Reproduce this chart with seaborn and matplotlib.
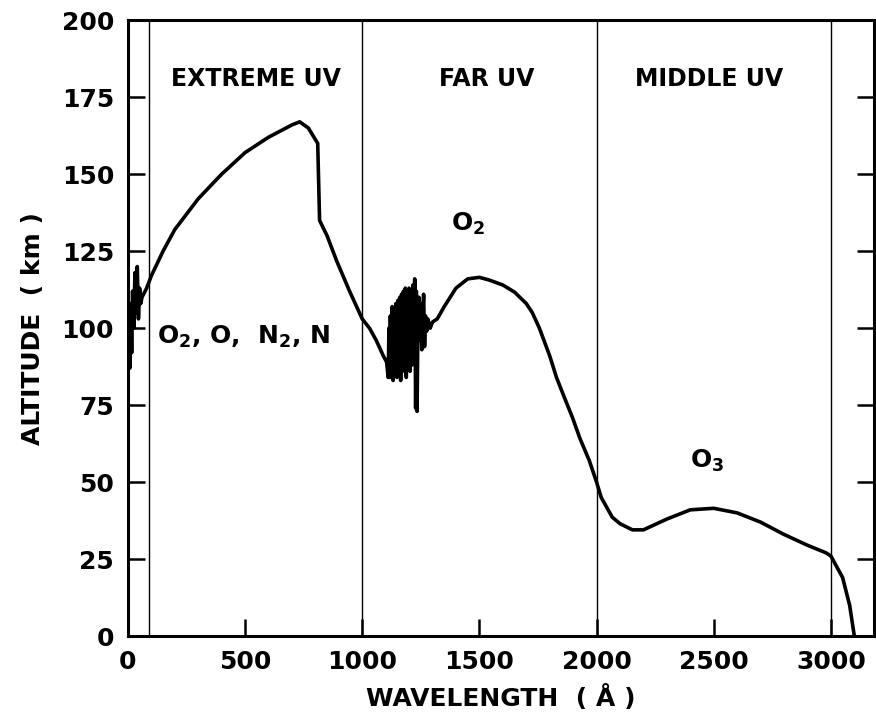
import matplotlib
matplotlib.use("Agg")
import matplotlib.pyplot as plt
import seaborn as sns
import pandas as pd

# ---- data ----
wavelength = [0, 5, 8, 12, 16, 20, 25, 30, 35, 40, 45, 50, 55, 60,
              80, 100, 150, 200, 300, 400, 500, 600, 700, 733, 770, 810,
              818, 850, 890, 946, 1000, 1031, 1060, 1090, 1104,
              1108, 1111, 1114, 1117, 1120, 1125, 1128, 1132, 1136, 1140, 1144,
              1148, 1152, 1156, 1160, 1164, 1168, 1172, 1176, 1180, 1184, 1188,
              1192, 1196, 1200, 1204, 1208, 1212, 1216, 1220, 1224, 1228, 1231,
              1234, 1238, 1242, 1246, 1250, 1254, 1258, 1262, 1266, 1270, 1275,
              1280, 1290, 1300, 1320, 1350, 1400, 1450, 1500, 1543, 1600, 1650,
              1700, 1726, 1756, 1800, 1829, 1860, 1897, 1930, 1969, 2000, 2020,
              2067, 2100, 2153, 2200, 2300, 2400, 2500, 2600, 2700, 2800, 2900,
              2980, 3000, 3050, 3080, 3100]
altitude = [98, 95, 87, 108, 92, 112, 100, 118, 105, 120, 103, 113, 108, 110,
            113, 117, 125, 132, 142, 150, 157, 162, 166, 167, 165, 160,
            135, 130, 122, 112, 103, 100, 96, 91, 89,
            86, 84, 100, 84, 104, 85, 107, 83, 106, 88, 108,
            84, 109, 90, 110, 83, 111, 88, 112, 86, 113, 84,
            110, 90, 113, 86, 111, 88, 114, 96, 116, 74, 112,
            73, 104, 110, 96, 108, 93, 104, 111, 94, 104, 99,
            103, 100, 102, 103, 107, 113, 116, 116.5, 115.6, 114, 111.7,
            108, 105, 100, 91, 84, 78, 71, 64, 57, 50, 45,
            38.6, 36.5, 34.5, 34.5, 38, 41, 41.5, 40, 37, 33, 29.5,
            27, 26, 19, 10, 0]

region_bounds = [90, 1000, 2000, 3000]
region_labels = ["EXTREME UV", "FAR UV", "MIDDLE UV"]
region_label_x = [545, 1530, 2480]
species_labels = [r"O$_\mathbf{2}$", r"O$_\mathbf{2}$, O,  N$_\mathbf{2}$, N", r"O$_\mathbf{3}$"]
species_x = [1450, 125, 2470]
species_y = [134, 97, 57]

x_ticks = [0, 500, 1000, 1500, 2000, 2500, 3000]
y_ticks = [0, 25, 50, 75, 100, 125, 150, 175, 200]

df = pd.DataFrame({"wavelength": wavelength, "altitude": altitude})

sns.set_theme(style="ticks")
plt.rcParams["font.family"] = ["DejaVu Sans"]
plt.rcParams["font.weight"] = "bold"
plt.rcParams["mathtext.default"] = "bf"

fig = plt.figure(figsize=(8.76, 7.22), dpi=100)
ax = fig.add_axes([0.146, 0.119, 0.852, 0.853])

sns.lineplot(data=df, x="wavelength", y="altitude", sort=False, estimator=None,
             color="black", linewidth=2.6, ax=ax)

for b in region_bounds:
    ax.axvline(b, color="black", linewidth=1.0)

for lab, xx in zip(region_labels, region_label_x):
    ax.text(xx, 181, lab, ha="center", va="center", fontsize=17,
            fontweight="bold", color="black")

for lab, xx, yy in zip(species_labels, species_x, species_y):
    ax.text(xx, yy, lab, ha="left" if xx < 500 else "center", va="center",
            fontsize=18, fontweight="bold", color="black")

ax.set_xlim(0, 3185)
ax.set_ylim(0, 200)
ax.set_xticks(x_ticks)
ax.set_yticks(y_ticks)
ax.tick_params(axis="both", direction="in", length=12, width=1.8,
               labelsize=18, colors="black", pad=10)
ax.tick_params(axis="y", right=True)
for t in ax.get_xticklabels() + ax.get_yticklabels():
    t.set_fontweight("bold")
for s in ax.spines.values():
    s.set_linewidth(2.2)
    s.set_color("black")

ax.set_xlabel("WAVELENGTH  ( Å )", fontsize=18, fontweight="bold",
              color="black", labelpad=8)
ax.set_ylabel("ALTITUDE  ( km )", fontsize=18, fontweight="bold",
              color="black", labelpad=12)

fig.savefig("out.png", dpi=100)
